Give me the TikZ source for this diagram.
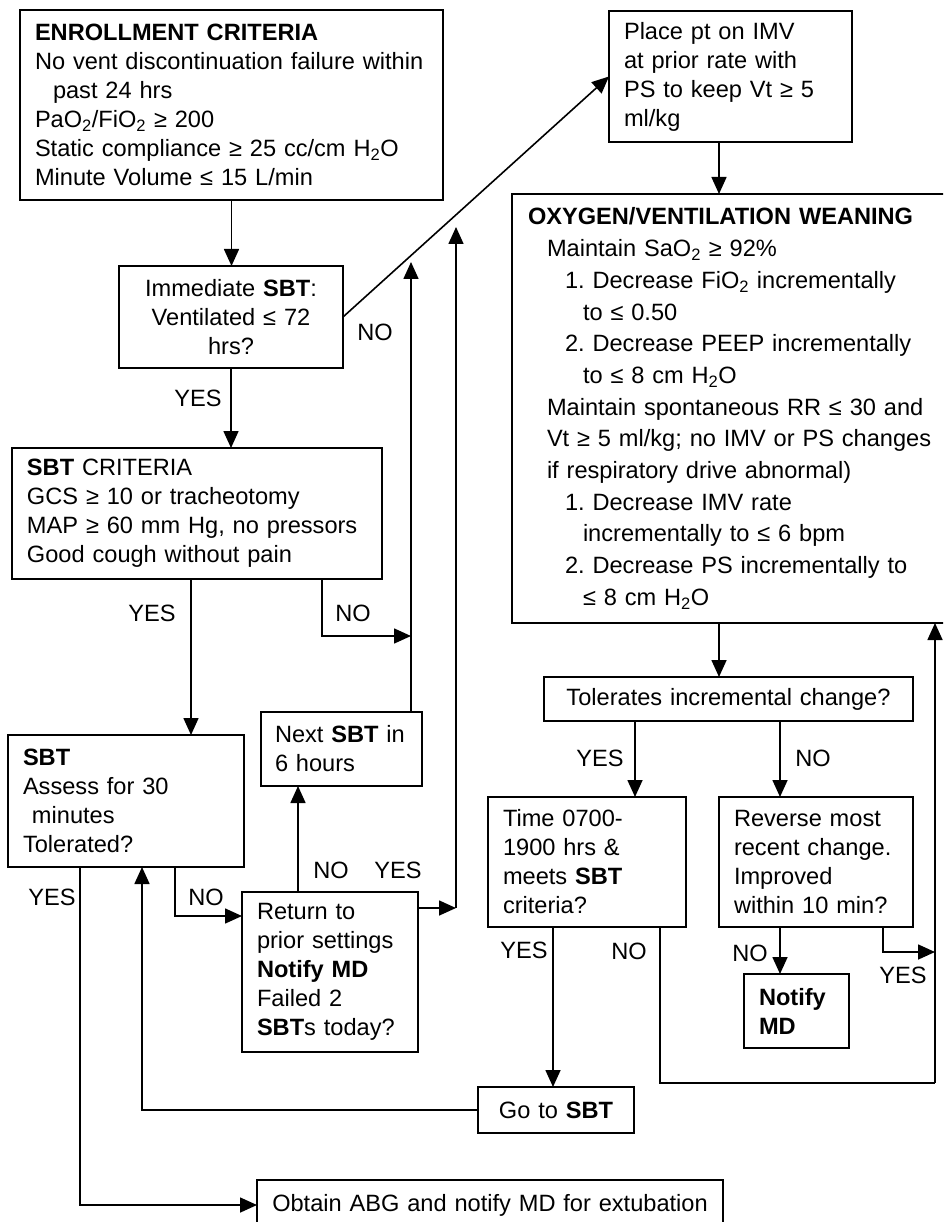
\documentclass[tikz,border=0pt]{standalone}
\usepackage{fontspec}
\setmainfont{Liberation Sans}
\usetikzlibrary{arrows.meta,calc}
\frenchspacing

\tikzset{
	box/.style={draw, line width=1.8pt, anchor=north west, inner xsep=15pt, inner ysep=0pt, outer sep=0pt, align=left, font=\fontsize{23.6}{29}\selectfont},
	cbox/.style={box, align=center},
	lab/.style={inner sep=0pt, font=\fontsize{23.6}{29}\selectfont},
	arr/.style={line width=1.6pt, -{Triangle[length=17pt,width=15pt]}},
	link/.style={line width=1.6pt},
}

\begin{document}
\begin{tikzpicture}[x=1pt,y=-1pt]
		%%%%% START %%%%%
		\useasboundingbox (0,0) rectangle (943,1222);
		\clip (0,0) rectangle (943,1222);
		
		% boxes
		\node[box, text width=393pt, minimum height=190pt] (enroll) at (20,10) {\textbf{ENROLLMENT CRITERIA}\\
			No vent discontinuation failure within\\
			\hspace*{18pt}past 24 hrs\\
			PaO\textsubscript{2}/FiO\textsubscript{2} ≥ 200\\
			Static compliance ≥ 25 cc/cm H\textsubscript{2}O\\
			Minute Volume ≤ 15 L/min};
		\node[cbox, text width=194pt, minimum height=102pt] (immed) at (119,266) {Immediate \textbf{SBT}:\\Ventilated ≤ 72\\hrs?};
		\node[box, text width=213pt, minimum height=131pt] (place) at (609,11) {Place pt on IMV\\at prior rate with\\PS to keep Vt ≥ 5\\ml/kg};
		\node[box, inner xsep=16pt, text width=410pt, minimum height=429pt, font=\fontsize{23.6}{31.7}\selectfont] (oxy) at (512,194) {\textbf{OXYGEN/VENTILATION WEANING}\\
			\hspace*{19pt}Maintain SaO\textsubscript{2} ≥ 92\%\\
			\hspace*{37pt}1. Decrease FiO\textsubscript{2} incrementally\\
			\hspace*{55pt}to ≤ 0.50\\
			\hspace*{37pt}2. Decrease PEEP incrementally\\
			\hspace*{55pt}to ≤ 8 cm H\textsubscript{2}O\\
			\hspace*{19pt}Maintain spontaneous RR ≤ 30 and\\
			\hspace*{19pt}Vt ≥ 5 ml/kg; no IMV or PS changes\\
			\hspace*{19pt}if respiratory drive abnormal)\\
			\hspace*{37pt}1. Decrease IMV rate\\
			\hspace*{55pt}incrementally to ≤ 6 bpm\\
			\hspace*{37pt}2. Decrease PS incrementally to\\
			\hspace*{55pt}≤ 8 cm H\textsubscript{2}O};
		\node[box, text width=340pt, minimum height=131pt] (sbtcrit) at (12,448) {\textbf{SBT} CRITERIA\\GCS ≥ 10 or tracheotomy\\MAP ≥ 60 mm Hg, no pressors\\Good cough without pain};
		\node[box, text width=206pt, minimum height=132pt] (sbt) at (8,735) {\textbf{SBT}\\Assess for 30\\\hspace*{9pt}minutes\\Tolerated?};
		\node[box, inner xsep=14pt, text width=133pt, minimum height=74pt] (nextsbt) at (261,712) {Next \textbf{SBT} in\\6 hours};
		\node[box, text width=146pt, minimum height=160pt] (ret) at (242,892) {Return to\\prior settings\\\textbf{Notify MD}\\Failed 2\\\textbf{SBT}s today?};
		\node[cbox, text width=339pt, minimum height=44pt] (tol) at (544,677) {Tolerates incremental change?};
		\node[box, text width=168pt, minimum height=130pt] (time) at (488,797) {Time 0700-\\1900 hrs \&\\meets \textbf{SBT}\\criteria?};
		\node[box, text width=164pt, minimum height=130pt] (rev) at (719,797) {Reverse most\\recent change.\\Improved\\within 10 min?};
		\node[box, text width=75pt, minimum height=74pt] (notify) at (744,974) {\textbf{Notify}\\\textbf{MD}};
		\node[cbox, text width=126pt, minimum height=46pt] (gosbt) at (478,1087) {Go to \textbf{SBT}};
		\node[cbox, inner xsep=13pt, text width=440pt, minimum height=50pt] (abg) at (257,1180) {Obtain ABG and notify MD for extubation};
		
		% columns and bends
		\coordinate (colgo) at (142,0);
		\coordinate (colsbtyes) at (80,0);
		\coordinate (colsbtno) at (175,0);
		\coordinate (colcrityes) at (191,0);
		\coordinate (colcritno) at (322,0);
		\coordinate (colretno) at (298,0);
		\coordinate (coldown) at (719,0);
		\coordinate (coltolyes) at (635,0);
		\coordinate (coltolno) at (780,0);
		\coordinate (coltimeyes) at (553,0);
		\coordinate (coltimeno) at (660,0);
		\coordinate (colrevyes) at (883,0);
		\coordinate (colright) at (935,0);
		\coordinate (critno) at (411,636);
		\coordinate (nexttip) at (411,262);
		\coordinate (retyes) at (456,908);
		\coordinate (rettip) at (456,227);
		\coordinate (retin) at (0,916);
		\coordinate (revyes) at (935,952);
		\coordinate (timeno) at (935,1083);
		
		% connectors
		\draw[arr] (enroll.south) -- (enroll.south |- immed.north);
		\draw[arr] (immed.south) -- (immed.south |- sbtcrit.north);
		\draw[arr] (immed.east) -- (place.west);
		\draw[arr] (place.south -| coldown) -- (oxy.north -| coldown);
		\draw[arr] (sbtcrit.south -| colcrityes) -- (sbt.north -| colcrityes);
		\draw[arr] (sbtcrit.south -| colcritno) |- (critno);
		\draw[arr] (nextsbt.north -| critno) -- (nexttip);
		\draw[arr] (ret.north -| colretno) -- (nextsbt.south -| colretno);
		\draw[arr] (ret.east |- retyes) -- (retyes);
		\draw[arr] (retyes) -- (rettip);
		\draw[arr] (sbt.south -| colsbtno) |- (ret.west |- retin);
		\draw[arr] (sbt.south -| colsbtyes) |- (abg.west);
		\draw[arr] (gosbt.west) -| (sbt.south -| colgo);
		\draw[arr] (oxy.south -| coldown) -- (tol.north -| coldown);
		\draw[arr] (tol.south -| coltolyes) -- (time.north -| coltolyes);
		\draw[arr] (tol.south -| coltolno) -- (rev.north -| coltolno);
		\draw[arr] (time.south -| coltimeyes) -- (gosbt.north -| coltimeyes);
		\draw[link] (time.south -| coltimeno) |- (timeno);
		\draw[arr] (timeno) -- (oxy.south -| colright);
		\draw[arr] (rev.south -| coltolno) -- (notify.north -| coltolno);
		\draw[arr] (rev.south -| colrevyes) |- (revyes);
		
		% labels
		\node[lab] (l1) at (198,398) {YES};
		\node[lab] (l2) at (375,332) {NO};
		\node[lab] (l3) at (152,613) {YES};
		\node[lab] (l4) at (353,613) {NO};
		\node[lab] (l5) at (52,897) {YES};
		\node[lab] (l6) at (206,897) {NO};
		\node[lab] (l7) at (331,870) {NO};
		\node[lab] (l8) at (398,870) {YES};
		\node[lab] (l9) at (600,758) {YES};
		\node[lab] (l10) at (813,758) {NO};
		\node[lab] (l11) at (524,950) {YES};
		\node[lab] (l12) at (629,951) {NO};
		\node[lab] (l13) at (750,953) {NO};
		\node[lab] (l14) at (903,975) {YES};
		%%%%% END %%%%%
	\end{tikzpicture}
\end{document}
